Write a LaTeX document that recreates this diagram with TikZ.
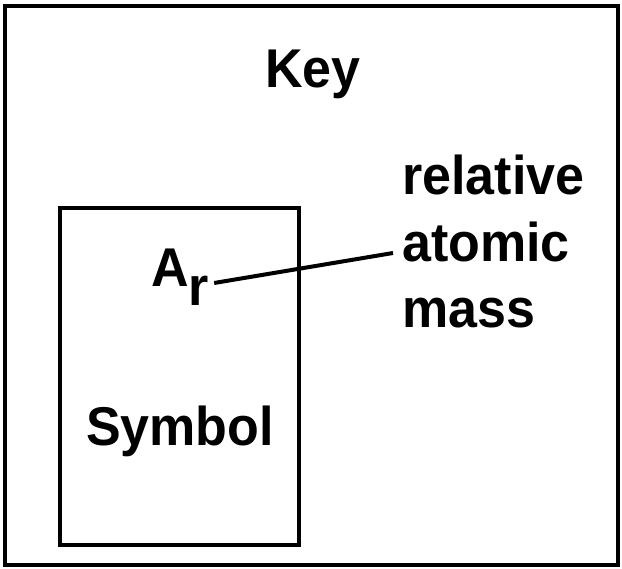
\documentclass[tikz,border=0pt]{standalone}
\usepackage{fontspec}
\setmainfont{Liberation Sans}
\usetikzlibrary{calc}
\begin{document}
\begin{tikzpicture}[x=1pt,y=-1pt,
  lbl/.style={font=\fontsize{52}{60}\selectfont\bfseries, inner sep=0pt},
  frame/.style={draw, line width=4pt},
  link/.style={draw, line width=4pt}]
\useasboundingbox (0,0) rectangle (622,569);
\draw[frame] (5,6) rectangle (618,565);
\draw[frame] (60,208) rectangle (299,545);
\node[lbl, anchor=base] (key) at (313,88) {\scalebox{1}[1.05]{Key}};
\node[lbl, anchor=base west] (rel) at (402,195) {\scalebox{1}[1.05]{relative}};
\node[lbl, anchor=base west] (atom) at (402,262) {\scalebox{1}[1.05]{atomic}};
\node[lbl, anchor=base west] (mass) at (402,328) {\scalebox{1}[1.05]{mass}};
\node[lbl, anchor=base west] (ar) at (151,287) {\scalebox{1}[1.05]{A}\raisebox{-19pt}{\scalebox{1}[1.05]{r}}};
\node[lbl, anchor=base] (sym) at (180,446) {\scalebox{1}[1.05]{Symbol}};
\draw[link] ($(ar.base east)+(5,-4)$) -- ($(atom.base west)+(-9,-9)$);
\end{tikzpicture}
\end{document}
